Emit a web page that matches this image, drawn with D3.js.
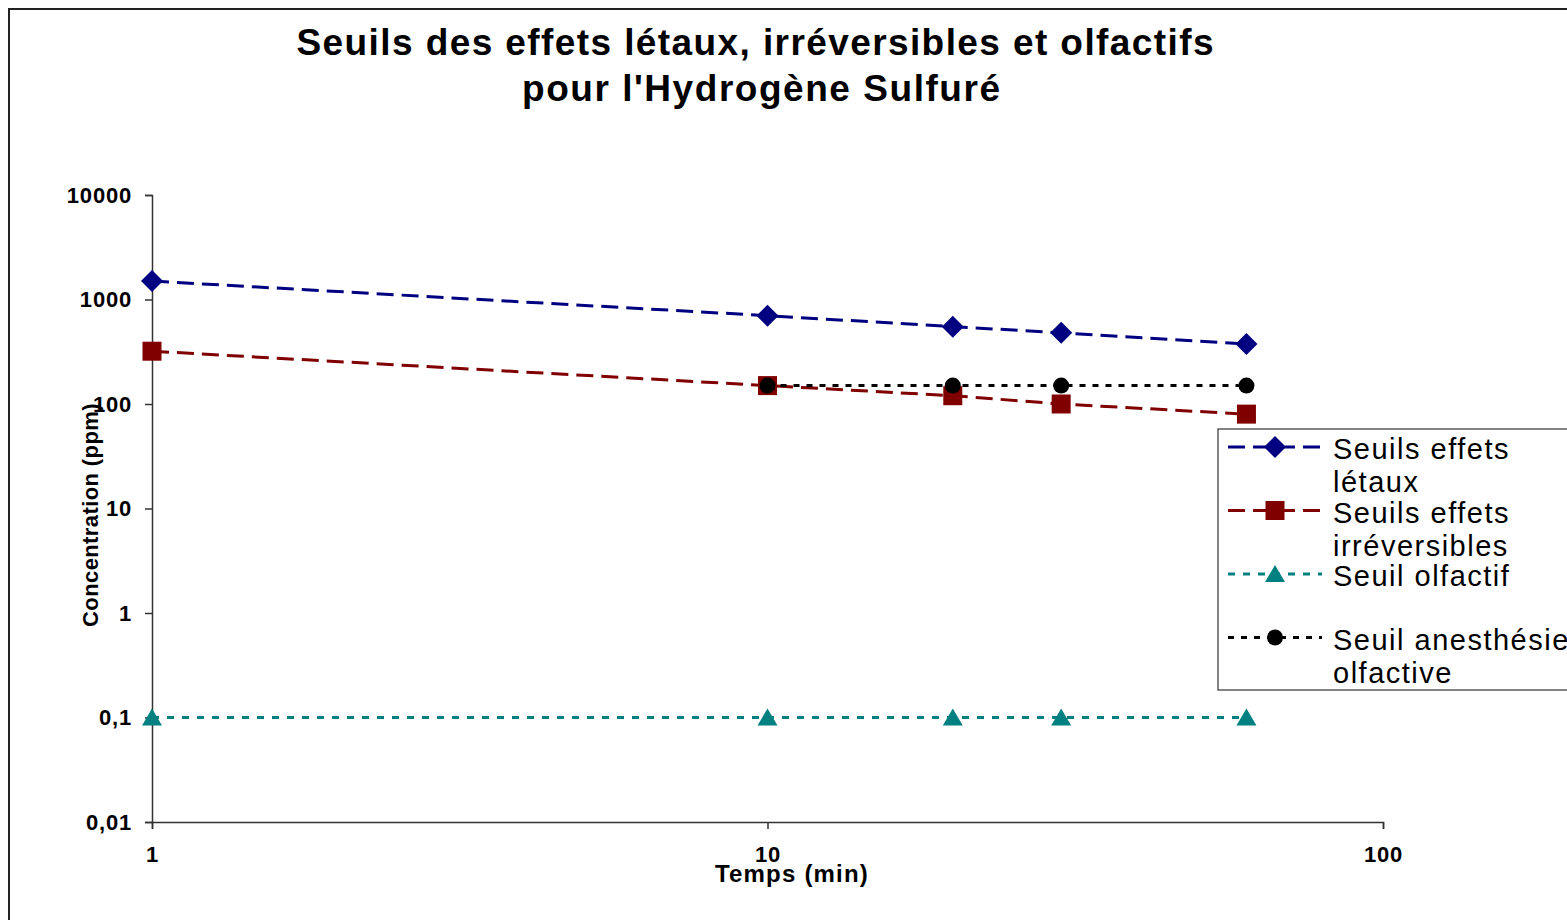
<!DOCTYPE html>
<html>
<head>
<meta charset="utf-8">
<script src="https://cdn.jsdelivr.net/npm/d3@7"></script>
<style>
  body { margin: 0; background: #fff; }
  svg { display: block; font-family: "Liberation Sans", Arial, sans-serif; }
</style>
</head>
<body>
<svg id="chart" width="1567" height="920"></svg>
<script>
"use strict"

// temps d'exposition (min)
const temps = [1, 10, 20, 30, 60];
const tempsAnesthesie = [10, 20, 30, 60];

// concentrations (ppm)
const seuilsLetaux = [1500, 700, 550, 480, 375];
const seuilsIrreversibles = [320, 150, 120, 100, 80];
const seuilOlfactif = [0.1, 0.1, 0.1, 0.1, 0.1];
const seuilAnesthesie = [150, 150, 150, 150];

const yTicks = [0.01, 0.1, 1, 10, 100, 1000, 10000];
const xTicks = [1, 10, 100];

const titre = ["Seuils des effets létaux, irréversibles et olfactifs", "pour l'Hydrogène Sulfuré"];

const series = [
  { nom: ["Seuils effets", "létaux"], x: temps, y: seuilsLetaux, couleur: "#000080", dash: "17,8", marker: "diamond" },
  { nom: ["Seuils effets", "irréversibles"], x: temps, y: seuilsIrreversibles, couleur: "#800000", dash: "17,8", marker: "square" },
  { nom: ["Seuil olfactif", ""], x: temps, y: seuilOlfactif, couleur: "#008080", dash: "7,8", marker: "triangle" },
  { nom: ["Seuil anesthésie", "olfactive"], x: tempsAnesthesie, y: seuilAnesthesie, couleur: "#000000", dash: "6,7", marker: "circle" }
];

const svg = d3.select("#chart");

// cadre
svg.append("rect")
  .attr("x", 9).attr("y", 9)
  .attr("width", 1700).attr("height", 1000)
  .attr("fill", "none")
  .attr("stroke", "#222")
  .attr("stroke-width", 2);

const x = d3.scaleLog().domain([1, 100]).range([152, 1383]);
const y = d3.scaleLog().domain([0.01, 10000]).range([822, 195]);

// titre (Excel l'étale un peu plus large)
const largeursTitre = [917, 478];
svg.append("text")
  .attr("text-anchor", "middle")
  .attr("font-weight", "bold")
  .attr("font-size", 37)
  .attr("fill", "#000")
  .selectAll("tspan")
  .data(titre)
  .join("tspan")
    .attr("x", (d, i) => i == 0 ? 755 : 761)
    .attr("y", (d, i) => 55 + i * 46)
    .attr("textLength", (d, i) => largeursTitre[i])
    .attr("lengthAdjust", "spacing")
    .text(d => d);

// axes
const fmt = d => String(d).replace(".", ",");

const gy = svg.append("g")
  .attr("transform", "translate(152,0)")
  .call(d3.axisLeft(y).tickValues(yTicks).tickFormat(fmt).tickSize(7).tickPadding(13));

const gx = svg.append("g")
  .attr("transform", "translate(0,822)")
  .call(d3.axisBottom(x).tickValues(xTicks).tickFormat(fmt).tickSize(7).tickPadding(17));

[gy, gx].forEach(g => {
  g.select(".domain").attr("stroke", "#333").attr("stroke-width", 1.5);
  g.selectAll(".tick line").attr("stroke", "#333").attr("stroke-width", 1.5);
  g.selectAll(".tick text")
    .attr("font-family", "Liberation Sans, Arial, sans-serif")
    .attr("font-weight", "bold")
    .attr("font-size", 22)
    .attr("letter-spacing", 0.8)
    .attr("fill", "#000");
});

svg.append("text")
  .attr("x", 792).attr("y", 882)
  .attr("text-anchor", "middle")
  .attr("font-weight", "bold")
  .attr("font-size", 24)
  .attr("letter-spacing", 1.2)
  .text("Temps (min)");

svg.append("text")
  .attr("transform", "translate(98,515) rotate(-90)")
  .attr("text-anchor", "middle")
  .attr("font-weight", "bold")
  .attr("font-size", 22)
  .attr("letter-spacing", 0.4)
  .text("Concentration (ppm)");

// marqueurs
const formes = {
  diamond: "M0,-11L11,0L0,11L-11,0Z",
  square: "M-9.5,-9.5H9.5V9.5H-9.5Z",
  triangle: "M0,-9L10,8H-10Z",
  circle: d3.symbol().type(d3.symbolCircle).size(200)()
};

function drawMarker(g, s, cx, cy) {
  g.append("path")
    .attr("d", formes[s.marker])
    .attr("transform", `translate(${cx},${cy})`)
    .attr("fill", s.couleur);
}

const line = d3.line().x(d => x(d[0])).y(d => y(d[1]));

series.forEach(s => {
  const pts = s.x.map((v, i) => [v, s.y[i]]);
  svg.append("path")
    .attr("d", line(pts))
    .attr("fill", "none")
    .attr("stroke", s.couleur)
    .attr("stroke-width", 3)
    .attr("stroke-dasharray", s.dash);
  const g = svg.append("g");
  pts.forEach(p => drawMarker(g, s, x(p[0]), y(p[1])));
});

// légende
const leg = svg.append("g").attr("transform", "translate(1218,429)");
leg.append("rect")
  .attr("width", 400).attr("height", 261)
  .attr("fill", "#fff")
  .attr("stroke", "#333")
  .attr("stroke-width", 1.2);

series.forEach((s, i) => {
  const cy = 18 + i * 63.5;
  leg.append("line")
    .attr("x1", 10).attr("x2", 104)
    .attr("y1", cy).attr("y2", cy)
    .attr("stroke", s.couleur)
    .attr("stroke-width", 3)
    .attr("stroke-dasharray", s.dash);
  drawMarker(leg, s, 57, cy);
  leg.append("text")
    .attr("font-size", 29)
    .attr("letter-spacing", 1.5)
    .attr("fill", "#000")
    .selectAll("tspan")
    .data(s.nom)
    .join("tspan")
      .attr("x", 115)
      .attr("y", (d, j) => cy + 12 + j * 33)
      .text(d => d);
});
</script>
</body>
</html>
